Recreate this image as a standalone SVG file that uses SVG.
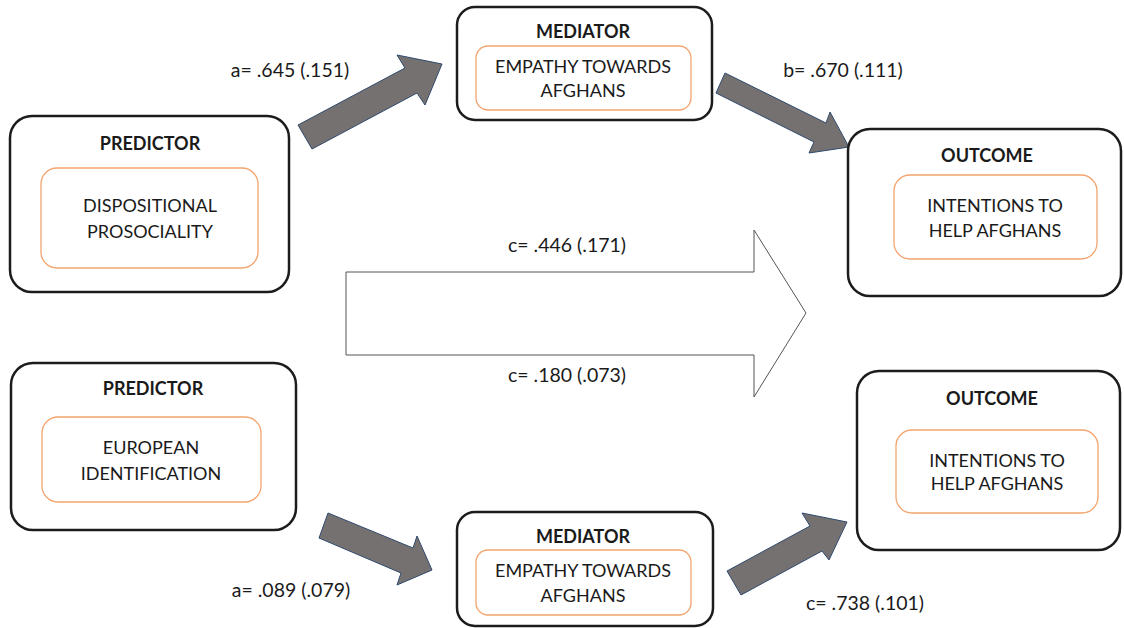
<svg xmlns="http://www.w3.org/2000/svg" width="1124" height="628" viewBox="0 0 1124 628">
<style>
.outer{fill:#fff;stroke:#1c1c1c;stroke-width:2.5}
.inner{fill:#fff;stroke:#F4A46E;stroke-width:1.3}
.t{font-family:Lato,"Liberation Sans",sans-serif;font-size:18px;fill:#1a1a1a;text-anchor:middle}
.b{font-weight:bold}
.lbl{font-family:Lato,"Liberation Sans",sans-serif;font-size:19.5px;fill:#1a1a1a;text-anchor:middle}
.ga{fill:#767171;stroke:#2F4A6E;stroke-width:1}
.wa{fill:#fff;stroke:#555;stroke-width:1}
</style>
<rect width="1124" height="628" fill="#fff"/>
<g id="connectors">
<polygon class="wa" points="346,272 754,272 754,230 806,313 754,397 754,355 346,355"/>
<polygon class="ga" points="298,125 405,68 397,55 442,64 425,105 417,93 312,149"/>
<polygon class="ga" points="725,73 826,123 830,112 849,147 809,153 814,142 716,93"/>
<polygon class="ga" points="328,513 413,548 417,536 432,570 397,585 401,573 319,538"/>
<polygon class="ga" points="727,571 810,526 802,513 847,522 829,560 822,551 741,595"/>
<text class="lbl" x="290" y="77">a= .645 (.151)</text>
<text class="lbl" x="843" y="77">b= .670 (.111)</text>
<text class="lbl" x="567" y="252">c= .446 (.171)</text>
<text class="lbl" x="567" y="382">c= .180 (.073)</text>
<text class="lbl" x="291" y="597">a= .089 (.079)</text>
<text class="lbl" x="865" y="610">c= .738 (.101)</text>
</g>
<g id="predictor1">
<rect class="outer" x="10" y="116" width="279" height="176" rx="22"/>
<rect class="inner" x="41" y="168" width="217" height="100" rx="16"/>
<text class="t b" x="150" y="149.5">PREDICTOR</text>
<text class="t" x="150" y="211.5">DISPOSITIONAL</text>
<text class="t" x="150" y="237.5">PROSOCIALITY</text>
</g>
<g id="mediator1">
<rect class="outer" x="457" y="7" width="255" height="113" rx="18"/>
<rect class="inner" x="476" y="46" width="215" height="64" rx="12"/>
<text class="t b" x="583" y="38">MEDIATOR</text>
<text class="t" x="583" y="73">EMPATHY TOWARDS</text>
<text class="t" x="583" y="96.5">AFGHANS</text>
</g>
<g id="outcome1">
<rect class="outer" x="848" y="129" width="273" height="167" rx="22"/>
<rect class="inner" x="894" y="175" width="203" height="84" rx="16"/>
<text class="t b" x="987" y="161.5">OUTCOME</text>
<text class="t" x="995" y="211.5">INTENTIONS TO</text>
<text class="t" x="995" y="236.5">HELP AFGHANS</text>
</g>
<g id="predictor2">
<rect class="outer" x="11" y="363" width="285" height="167" rx="22"/>
<rect class="inner" x="42" y="417" width="219" height="85" rx="16"/>
<text class="t b" x="153" y="394.5">PREDICTOR</text>
<text class="t" x="151" y="453.5">EUROPEAN</text>
<text class="t" x="151" y="479.5">IDENTIFICATION</text>
</g>
<g id="mediator2">
<rect class="outer" x="457" y="512" width="256" height="114" rx="18"/>
<rect class="inner" x="476" y="550" width="215" height="65" rx="12"/>
<text class="t b" x="583" y="543">MEDIATOR</text>
<text class="t" x="583" y="576.5">EMPATHY TOWARDS</text>
<text class="t" x="583" y="601.5">AFGHANS</text>
</g>
<g id="outcome2">
<rect class="outer" x="857" y="371" width="263" height="179" rx="22"/>
<rect class="inner" x="896" y="430" width="202" height="83" rx="16"/>
<text class="t b" x="992" y="404.5">OUTCOME</text>
<text class="t" x="997" y="466.5">INTENTIONS TO</text>
<text class="t" x="997" y="489.5">HELP AFGHANS</text>
</g>
</svg>
